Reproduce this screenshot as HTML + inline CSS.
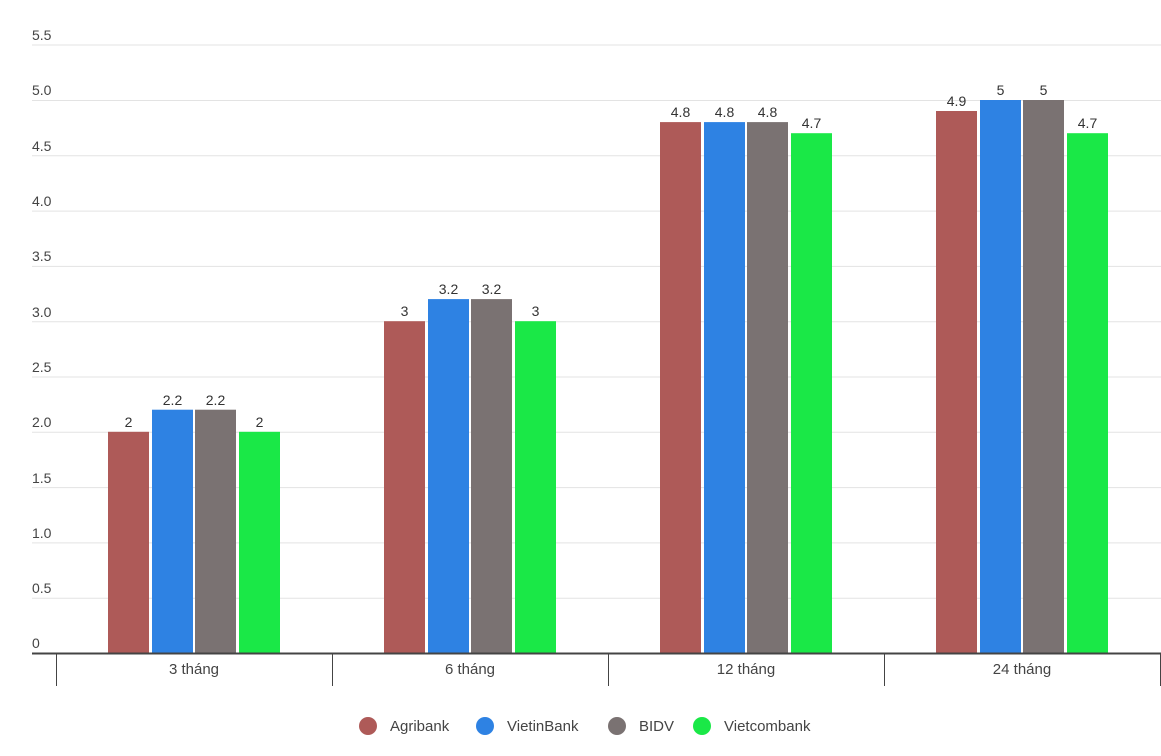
<!DOCTYPE html>
<html><head><meta charset="utf-8"><style>
html,body{margin:0;padding:0;background:#fff;}
svg{display:block;font-family:"Liberation Sans",sans-serif;}
</style></head><body>
<svg width="1161" height="756" viewBox="0 0 1161 756">
<g stroke="#e3e3e3" stroke-width="1">
<line x1="32" x2="1161" y1="45" y2="45"/>
<line x1="32" x2="1161" y1="100.5" y2="100.5"/>
<line x1="32" x2="1161" y1="155.8" y2="155.8"/>
<line x1="32" x2="1161" y1="211.1" y2="211.1"/>
<line x1="32" x2="1161" y1="266.4" y2="266.4"/>
<line x1="32" x2="1161" y1="321.7" y2="321.7"/>
<line x1="32" x2="1161" y1="377" y2="377"/>
<line x1="32" x2="1161" y1="432.3" y2="432.3"/>
<line x1="32" x2="1161" y1="487.6" y2="487.6"/>
<line x1="32" x2="1161" y1="542.9" y2="542.9"/>
<line x1="32" x2="1161" y1="598.2" y2="598.2"/>
</g>
<g fill="#444" font-size="14">
<text x="32" y="40">5.5</text>
<text x="32" y="95">5.0</text>
<text x="32" y="151">4.5</text>
<text x="32" y="206">4.0</text>
<text x="32" y="261">3.5</text>
<text x="32" y="317">3.0</text>
<text x="32" y="372">2.5</text>
<text x="32" y="427">2.0</text>
<text x="32" y="483">1.5</text>
<text x="32" y="538">1.0</text>
<text x="32" y="593">0.5</text>
<text x="32" y="648">0</text>
</g>
<g>
<rect x="108" y="431.8" width="41" height="221.2" fill="#ae5a58"/>
<rect x="152" y="409.7" width="41" height="243.3" fill="#2e82e3"/>
<rect x="195" y="409.7" width="41" height="243.3" fill="#7a7272"/>
<rect x="239" y="431.8" width="41" height="221.2" fill="#1ae847"/>
<rect x="384" y="321.2" width="41" height="331.8" fill="#ae5a58"/>
<rect x="428" y="299.1" width="41" height="353.9" fill="#2e82e3"/>
<rect x="471" y="299.1" width="41" height="353.9" fill="#7a7272"/>
<rect x="515" y="321.2" width="41" height="331.8" fill="#1ae847"/>
<rect x="660" y="122.1" width="41" height="530.9" fill="#ae5a58"/>
<rect x="704" y="122.1" width="41" height="530.9" fill="#2e82e3"/>
<rect x="747" y="122.1" width="41" height="530.9" fill="#7a7272"/>
<rect x="791" y="133.2" width="41" height="519.8" fill="#1ae847"/>
<rect x="936" y="111" width="41" height="542" fill="#ae5a58"/>
<rect x="980" y="100" width="41" height="553" fill="#2e82e3"/>
<rect x="1023" y="100" width="41" height="553" fill="#7a7272"/>
<rect x="1067" y="133.2" width="41" height="519.8" fill="#1ae847"/>
</g>
<g font-size="14" fill="#333" text-anchor="middle">
<text x="128.5" y="427">2</text>
<text x="172.5" y="405">2.2</text>
<text x="215.5" y="405">2.2</text>
<text x="259.5" y="427">2</text>
<text x="404.5" y="316">3</text>
<text x="448.5" y="294">3.2</text>
<text x="491.5" y="294">3.2</text>
<text x="535.5" y="316">3</text>
<text x="680.5" y="117">4.8</text>
<text x="724.5" y="117">4.8</text>
<text x="767.5" y="117">4.8</text>
<text x="811.5" y="128">4.7</text>
<text x="956.5" y="106">4.9</text>
<text x="1000.5" y="95">5</text>
<text x="1043.5" y="95">5</text>
<text x="1087.5" y="128">4.7</text>
</g>
<line x1="32" x2="1161" y1="653.5" y2="653.5" stroke="#444" stroke-width="2"/>
<g stroke="#444" stroke-width="1">
<line x1="56.5" x2="56.5" y1="653" y2="686"/>
<line x1="332.5" x2="332.5" y1="653" y2="686"/>
<line x1="608.5" x2="608.5" y1="653" y2="686"/>
<line x1="884.5" x2="884.5" y1="653" y2="686"/>
<line x1="1160.5" x2="1160.5" y1="653" y2="686"/>
</g>
<g fill="#444" font-size="15" text-anchor="middle">
<text x="194" y="674">3 tháng</text>
<text x="470" y="674">6 tháng</text>
<text x="746" y="674">12 tháng</text>
<text x="1022" y="674">24 tháng</text>
</g>
<g font-size="15" fill="#444">
<circle cx="368" cy="726" r="9" fill="#ae5a58"/><text x="390" y="731">Agribank</text>
<circle cx="485" cy="726" r="9" fill="#2e82e3"/><text x="507" y="731">VietinBank</text>
<circle cx="617" cy="726" r="9" fill="#7a7272"/><text x="639" y="731">BIDV</text>
<circle cx="702" cy="726" r="9" fill="#1ae847"/><text x="724" y="731">Vietcombank</text>
</g>
</svg>
</body></html>
